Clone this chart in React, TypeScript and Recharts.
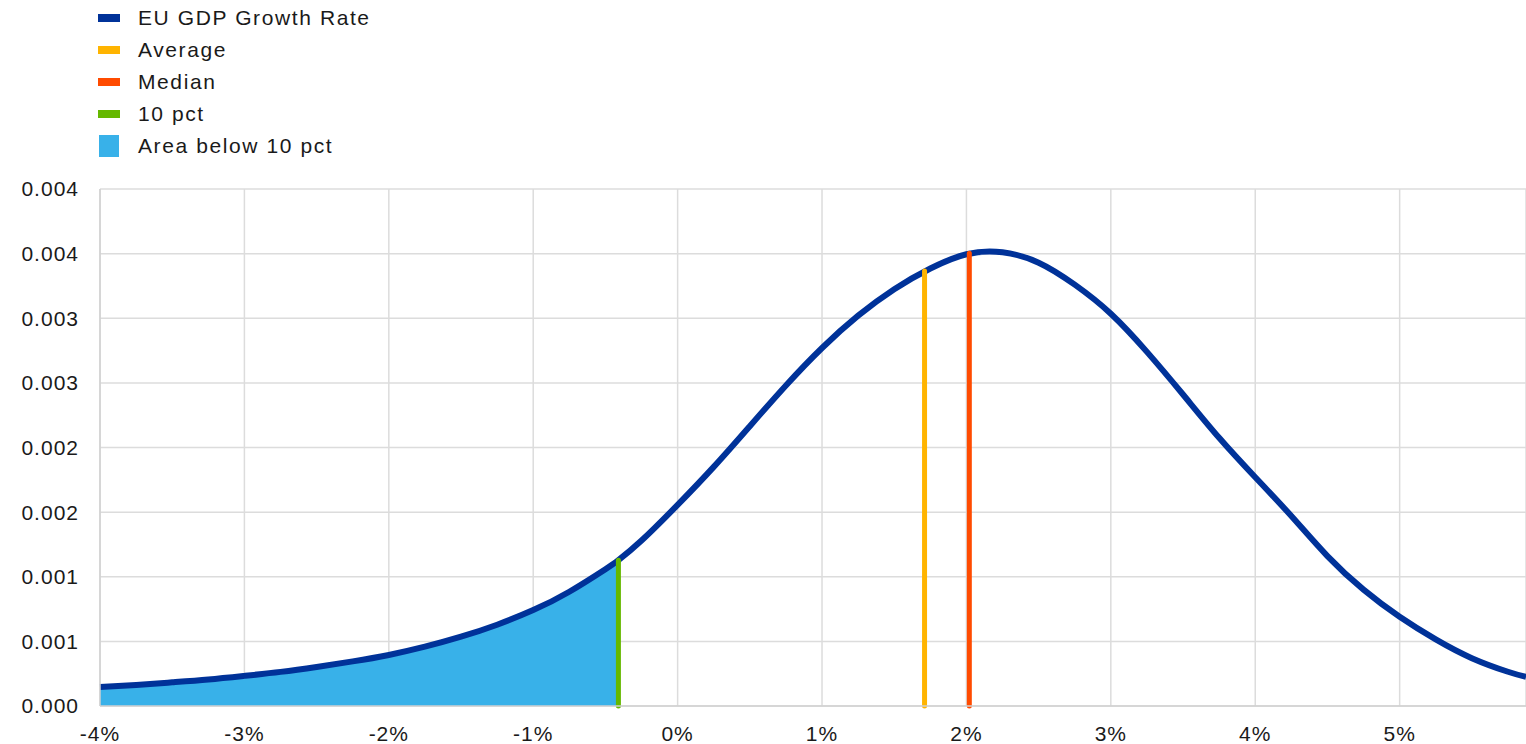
import React from "react";
import {
  ComposedChart,
  Line,
  Area,
  XAxis,
  YAxis,
  CartesianGrid,
  Legend,
  ReferenceLine,
} from "recharts";

// growth rate (%) and estimated density
const growthPct = [
  -4, -3.75, -3.5, -3.25, -3, -2.75, -2.5, -2.25, -2, -1.75, -1.5, -1.25, -1,
  -0.75, -0.5, -0.41, -0.25, 0, 0.25, 0.5, 0.75, 1, 1.25, 1.5, 1.75, 2, 2.25,
  2.5, 2.75, 3, 3.25, 3.5, 3.75, 4, 4.25, 4.5, 4.75, 5, 5.25, 5.5, 5.75, 5.875,
];
const density = [
  0.000147, 0.000163, 0.000183, 0.000205, 0.000233, 0.000264, 0.000302,
  0.000345, 0.000395, 0.000459, 0.000536, 0.000629, 0.000742, 0.000884,
  0.001058, 0.001128, 0.00128, 0.001556, 0.00185, 0.002165, 0.00248, 0.00277,
  0.00302, 0.003225, 0.003385, 0.003495, 0.00351, 0.00343, 0.00326, 0.003035,
  0.00274, 0.00241, 0.002075, 0.00177, 0.00147, 0.00116, 0.0009, 0.00069,
  0.000515, 0.00037, 0.000265, 0.000225,
];

const averagePct = 1.71;
const averageDensity = 0.003366;
const medianPct = 2.02;
const medianDensity = 0.003503;
const tenPct = -0.41;
const tenPctDensity = 0.001128;

const xTicks = [-4, -3, -2, -1, 0, 1, 2, 3, 4, 5];
const yTicks = [0, 0.0005, 0.001, 0.0015, 0.002, 0.0025, 0.003, 0.0035, 0.004];
const yTickLabels = [
  "0.000", "0.001", "0.001", "0.002", "0.002", "0.003", "0.003", "0.004", "0.004",
];

const BLUE = "#003299";
const YELLOW = "#FFB400";
const ORANGE = "#FF4B00";
const GREEN = "#65B800";
const LIGHT_BLUE = "#38B1E9";
const FONT = "'Liberation Sans', Arial, sans-serif";

const legendItems = [
  { label: "EU GDP Growth Rate", color: BLUE, square: false },
  { label: "Average", color: YELLOW, square: false },
  { label: "Median", color: ORANGE, square: false },
  { label: "10 pct", color: GREEN, square: false },
  { label: "Area below 10 pct", color: LIGHT_BLUE, square: true },
];

const data = growthPct.map((x, i) => ({
  x,
  density: density[i],
  below: x <= tenPct ? density[i] : null,
}));

function renderLegend() {
  return (
    <div style={{ height: 160, paddingTop: 2, boxSizing: "border-box" }}>
      {legendItems.map((item) => (
        <div
          key={item.label}
          style={{ height: 32, display: "flex", alignItems: "center" }}
        >
          <div style={{ width: 48, display: "flex", alignItems: "center" }}>
            <span
              style={{
                display: "inline-block",
                marginLeft: item.square ? 9 : 8,
                width: item.square ? 20 : 22,
                height: item.square ? 22 : 8,
                background: item.color,
              }}
            />
          </div>
          <span
            style={{
              fontFamily: FONT,
              fontSize: 21,
              letterSpacing: 1.6,
              color: "#1a1a1a",
            }}
          >
            {item.label}
          </span>
        </div>
      ))}
    </div>
  );
}

export default function App() {
  const tickStyle = {
    fontFamily: FONT,
    fontSize: 21,
    letterSpacing: 1,
    fill: "#1a1a1a",
  };
  return (
    <div style={{ position: "absolute", left: 0, top: 0 }}>
      <ComposedChart
        width={1526}
        height={744}
        data={data}
        margin={{ top: 29, right: 0, left: 0, bottom: 0 }}
      >
        <CartesianGrid stroke="#dcdcdc" strokeWidth={1.5} />
        <XAxis
          dataKey="x"
          type="number"
          domain={[-4, 5.875]}
          ticks={xTicks}
          tickFormatter={(v) => `${v}%`}
          height={38}
          tickLine={false}
          tickMargin={14}
          axisLine={{ stroke: "#d0d0d0", strokeWidth: 1.5 }}
          tick={tickStyle}
          interval={0}
        />
        <YAxis
          type="number"
          domain={[0, 0.004]}
          ticks={yTicks}
          tickFormatter={(_v, i) => yTickLabels[i]}
          width={100}
          tickLine={false}
          tickMargin={15}
          axisLine={{ stroke: "#d0d0d0", strokeWidth: 1.5 }}
          tick={tickStyle}
          interval={0}
        />
        <Legend
          verticalAlign="top"
          align="left"
          layout="horizontal"
          content={renderLegend}
          wrapperStyle={{ top: 0, left: 90, width: 420 }}
        />
        <Area
          dataKey="below"
          type="natural"
          fill={LIGHT_BLUE}
          fillOpacity={1}
          stroke="none"
          isAnimationActive={false}
          legendType="none"
        />
        <Line
          dataKey="density"
          type="natural"
          stroke={BLUE}
          strokeWidth={6}
          dot={false}
          isAnimationActive={false}
          legendType="none"
        />
        <ReferenceLine
          segment={[
            { x: tenPct, y: 0 },
            { x: tenPct, y: tenPctDensity },
          ]}
          stroke={GREEN}
          strokeWidth={5}
          strokeLinecap="round"
        />
        <ReferenceLine
          segment={[
            { x: averagePct, y: 0 },
            { x: averagePct, y: averageDensity },
          ]}
          stroke={YELLOW}
          strokeWidth={5}
          strokeLinecap="round"
        />
        <ReferenceLine
          segment={[
            { x: medianPct, y: 0 },
            { x: medianPct, y: medianDensity },
          ]}
          stroke={ORANGE}
          strokeWidth={5}
          strokeLinecap="round"
        />
      </ComposedChart>
    </div>
  );
}
